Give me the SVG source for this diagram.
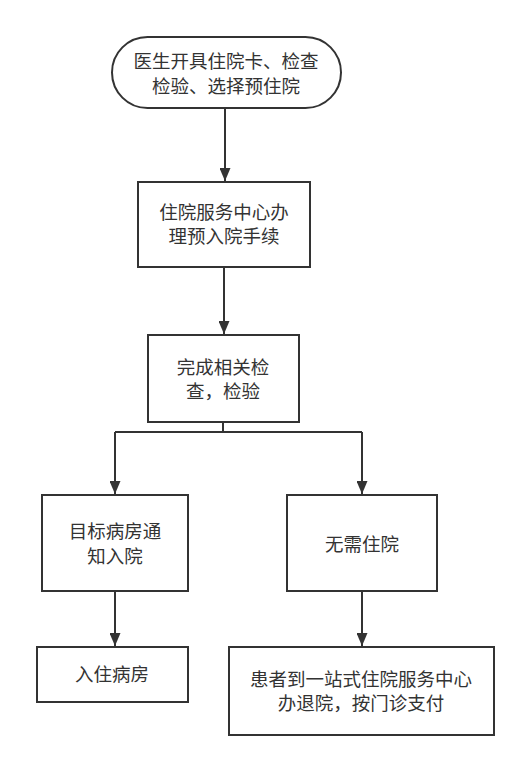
<svg xmlns="http://www.w3.org/2000/svg" width="531" height="772" viewBox="0 0 531 772">
<style>
.n{fill:#fff;stroke:#333;stroke-width:2}
.t{font-family:"Noto Sans CJK SC","Noto Sans",sans-serif;font-size:18.5px;fill:#333;text-anchor:middle}
.c{fill:none;stroke:#333;stroke-width:2}
</style>
<defs>
<marker id="b" markerWidth="12" markerHeight="11" refX="13" refY="5.5" orient="auto" markerUnits="userSpaceOnUse">
<path d="M0,0 L13,5.5 L0,11 Z" fill="#333"/>
</marker>
</defs>
<rect width="531" height="772" fill="#fff"/>
<g id="connectors">
<path class="c" d="M225,108 V181" marker-end="url(#b)"/>
<path class="c" d="M224,267 V334" marker-end="url(#b)"/>
<path class="c" d="M223,422 V432 M115,432 H362"/>
<path class="c" d="M115,432 V494" marker-end="url(#b)"/>
<path class="c" d="M362,432 V494" marker-end="url(#b)"/>
<path class="c" d="M115,591 V646" marker-end="url(#b)"/>
<path class="c" d="M362,591 V646" marker-end="url(#b)"/>
</g>
<g id="start">
<rect class="n" x="112" y="37" width="229" height="71" rx="35.5"/>
<text class="t" x="226" y="68">医生开具住院卡、检查</text>
<text class="t" x="226" y="93">检验、选择预住院</text>
</g>
<g id="n1">
<rect class="n" x="138" y="182" width="172" height="85"/>
<text class="t" x="224" y="219">住院服务中心办</text>
<text class="t" x="224" y="243">理预入院手续</text>
</g>
<g id="n2">
<rect class="n" x="148" y="335" width="151" height="87"/>
<text class="t" x="223" y="374">完成相关检</text>
<text class="t" x="223" y="398">查，检验</text>
</g>
<g id="n3">
<rect class="n" x="42" y="495" width="146" height="96"/>
<text class="t" x="115" y="538">目标病房通</text>
<text class="t" x="115" y="563">知入院</text>
</g>
<g id="n4">
<rect class="n" x="287" y="495" width="150" height="96"/>
<text class="t" x="362" y="551">无需住院</text>
</g>
<g id="n5">
<rect class="n" x="37" y="647" width="151" height="55"/>
<text class="t" x="112" y="681">入住病房</text>
</g>
<g id="n6">
<rect class="n" x="229" y="647" width="265" height="88"/>
<text class="t" x="361" y="686">患者到一站式住院服务中心</text>
<text class="t" x="361" y="710">办退院，按门诊支付</text>
</g>
</svg>
